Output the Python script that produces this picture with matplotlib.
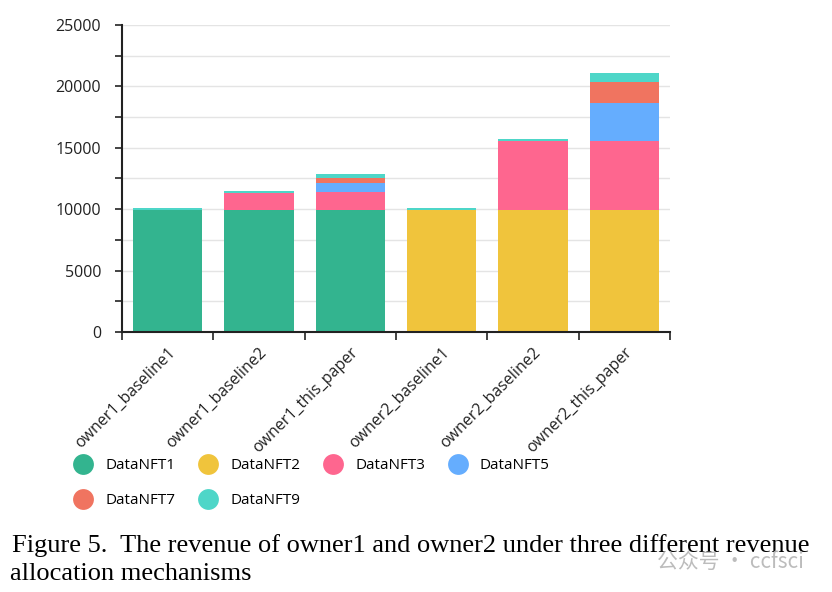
import numpy as np
import matplotlib.pyplot as plt
from matplotlib.lines import Line2D

categories = ["owner1_baseline1", "owner1_baseline2", "owner1_this_paper",
              "owner2_baseline1", "owner2_baseline2", "owner2_this_paper"]
series_names = ["DataNFT1", "DataNFT2", "DataNFT3", "DataNFT5", "DataNFT7", "DataNFT9"]
nft1 = [9950, 9900, 9900, 0, 0, 0]
nft2 = [0, 0, 0, 9950, 9900, 9900]
nft3 = [0, 1450, 1460, 0, 5610, 5610]
nft5 = [0, 0, 760, 0, 0, 3170]
nft7 = [0, 0, 460, 0, 0, 1710]
nft9 = [130, 100, 250, 130, 190, 730]
colors = ["#33b48f", "#f0c43c", "#fe668f", "#65adfe", "#f07460", "#4ed6c8"]

sans = ["Open Sans", "DejaVu Sans"]

fig = plt.figure(figsize=(8.32, 5.92), dpi=100)
ax = fig.add_axes([0.1466, 0.439, 0.6586, 0.519])

x = np.arange(len(categories))
bottom = np.zeros(len(categories))
for name, vals, c in zip(series_names, [nft1, nft2, nft3, nft5, nft7, nft9], colors):
    ax.bar(x, vals, width=0.76, bottom=bottom, color=c, label=name, zorder=3)
    bottom += np.array(vals)

ax.set_xlim(-0.5, len(categories) - 0.5)
ax.set_ylim(0, 25000)

# y axis: ticks every 2500, labels every 5000
ax.set_yticks(np.arange(0, 25001, 5000))
ax.set_yticks(np.arange(2500, 25000, 5000), minor=True)
ax.yaxis.grid(True, which="both", color="#e4e4e4", lw=1, zorder=0)
ax.tick_params(axis="y", which="both", length=5, width=1.2, color="#222222",
               labelsize=11.5, pad=10)
for lab in ax.get_yticklabels():
    lab.set_family(sans)
    lab.set_color("#222222")

# x axis: tick marks on category boundaries, labels at centres
ax.set_xticks(x)
ax.set_xticklabels(categories, rotation=45, ha="right", rotation_mode="anchor",
                   family=sans, fontsize=11.5, color="#222222")
ax.set_xticks(np.arange(-0.5, len(categories), 1.0), minor=True)
ax.tick_params(axis="x", which="major", length=0, pad=9)
ax.tick_params(axis="x", which="minor", length=6, width=1.2, color="#222222")

for s in ["top", "right"]:
    ax.spines[s].set_visible(False)
for s in ["left", "bottom"]:
    ax.spines[s].set_color("#222222")
    ax.spines[s].set_linewidth(1.5)
    ax.spines[s].set_zorder(4)

# legend, filled row-wise
handles = [Line2D([], [], ls="none", marker="o", markersize=15, color=c,
                  markeredgewidth=0) for c in colors]
order = [0, 4, 1, 5, 2, 3]
fig.legend([handles[i] for i in order], [series_names[i] for i in order],
           loc="upper left", bbox_to_anchor=(0.074, 0.249), ncol=4, frameon=False,
           handlelength=1.0, handletextpad=0.95, columnspacing=1.65,
           labelspacing=1.3, prop={"family": sans, "size": 11})

# caption
fig.text(0.014, 0.068, "Figure 5.  The revenue of owner1 and owner2 under three different revenue",
         family="Liberation Serif", fontsize=19, va="baseline")
fig.text(0.012, 0.020, "allocation mechanisms", family="Liberation Serif",
         fontsize=19, va="baseline")

# watermark
fig.text(0.79, 0.040, "公众号 · ccfsci", family=["Noto Sans CJK SC", "DejaVu Sans"],
         fontsize=15, color="#b5b5b5", alpha=0.9, va="baseline")

fig.savefig("out.png", dpi=100)
